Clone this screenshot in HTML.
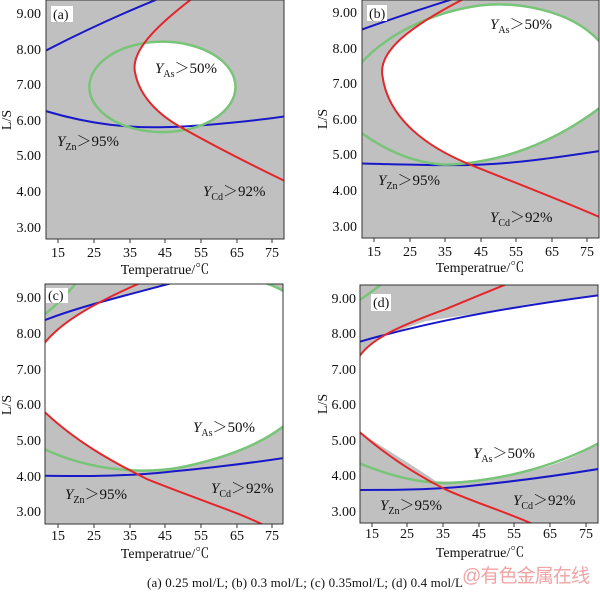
<!DOCTYPE html>
<html><head><meta charset="utf-8"><style>
html,body{margin:0;padding:0;background:#fff;width:600px;height:593px;overflow:hidden;}
svg{display:block;}
text{font-family:"Liberation Serif","Noto Serif CJK SC",serif;fill:#111;}
.l{fill:none;vector-effect:non-scaling-stroke;stroke-linejoin:round;}
.b{stroke:#1818c8;stroke-width:2;}
.r{stroke:#e4262a;stroke-width:2;}
.g{stroke:#78c478;stroke-width:2.5;}
.w{fill:#fff;stroke:none;}
</style></head><body>
<svg width="600" height="593" viewBox="0 0 600 593" xmlns="http://www.w3.org/2000/svg">
<defs>
<clipPath id="ca"><path d="M52.4,-9.4 C42,-8.6 35,-7.9 36.6,-7.3 C38,-6.6 44,-6.1 49,-5.82 C60,-5.2 70,-4.7 78.3,-4.3 L82,-4.3 L82,-9.6 L52.4,-9.6 Z"/></clipPath>
<clipPath id="cb"><path d="M40.6,-9.4 C25,-8.6 16,-7.9 17.4,-7.2 C19,-6 30,-5.2 42.5,-4.7 C55,-4.2 68,-3.7 78.3,-3.25 L82,-3.25 L82,-9.6 L40.6,-9.6 Z"/></clipPath>
</defs>

<!-- Panel a -->
<svg x="46" y="0" width="238" height="239" viewBox="11.55 -9.37 66.75 6.71" preserveAspectRatio="none">
<rect x="0" y="-20" width="100" height="30" fill="#c0c0c0"/>
<ellipse cx="44.2" cy="-6.93" rx="20.5" ry="1.27" class="w" clip-path="url(#ca)"/>
<path class="l b" d="M11.5,-7.95 Q27,-8.75 43,-9.4"/>
<path class="l b" d="M11.5,-6.25 C25,-5.85 35,-5.78 45,-5.8 S70,-5.98 78.3,-6.1"/>
<ellipse cx="44.2" cy="-6.93" rx="20.5" ry="1.27" class="l g"/>
<path class="l r" d="M52.4,-9.4 C42,-8.6 35,-7.9 36.6,-7.3 C38,-6.6 44,-6.1 49,-5.82 C60,-5.2 70,-4.7 78.3,-4.3"/>
</svg>
<rect x="46" y="0" width="238" height="239" fill="none" stroke="#333" stroke-width="1"/>
<rect x="51" y="6" width="22" height="16" fill="#fff"/><text x="53" y="19" font-size="14">(a)</text>

<!-- Panel b -->
<svg x="362" y="0" width="237" height="238" viewBox="11.62 -9.35 66.68 6.695" preserveAspectRatio="none">
<rect x="0" y="-20" width="100" height="30" fill="#c0c0c0"/>
<path class="w" clip-path="url(#cb)" d="M11.6,-5.6 C20,-5.0 28,-4.75 35,-4.72 C50,-4.75 65,-5.3 78.3,-6.3 C82,-6.8 82,-7.7 78.3,-8.2 C70,-9.1 55,-9.3 45,-9.2 C30,-9.0 18,-8.3 11.6,-7.6 C8,-7.0 8,-6.0 11.6,-5.6 Z"/>
<path class="l b" d="M11.6,-8.52 Q25,-9.0 38,-9.4"/>
<path class="l b" d="M11.6,-4.75 C25,-4.72 35,-4.68 45,-4.72 S65,-4.9 78.3,-5.1"/>
<path class="l g" d="M11.6,-5.6 C20,-5.0 28,-4.75 35,-4.72 C50,-4.75 65,-5.3 78.3,-6.3 C82,-6.8 82,-7.7 78.3,-8.2 C70,-9.1 55,-9.3 45,-9.2 C30,-9.0 18,-8.3 11.6,-7.6 C8,-7.0 8,-6.0 11.6,-5.6 Z"/>
<path class="l r" d="M40.6,-9.4 C25,-8.6 16,-7.9 17.4,-7.2 C19,-6 30,-5.2 42.5,-4.7 C55,-4.2 68,-3.7 78.3,-3.25"/>
</svg>
<rect x="362" y="0" width="237" height="238" fill="none" stroke="#333" stroke-width="1"/>
<rect x="367" y="5" width="20" height="16" fill="#fff"/><text x="369" y="18" font-size="14">(b)</text>

<!-- Panel c -->
<svg x="45" y="284" width="238" height="240" viewBox="11.27 -9.37 66.73 6.72" preserveAspectRatio="none">
<rect x="0" y="-20" width="100" height="30" fill="#c0c0c0"/>
<path class="w" d="M11,-7.7 C15,-8.2 22,-8.7 30,-8.95 C35,-9.1 42,-9.25 47,-9.4 L74,-9.4 L78.5,-9.15 L78.5,-5.4 C72,-4.9 62,-4.5 50,-4.25 C40,-4.05 36,-4.15 35,-4.2 C30,-4.4 20,-4.95 11,-5.8 Z"/>
<path class="l b" d="M11,-8.35 C20,-8.7 30,-8.95 47,-9.4"/>
<path class="l b" d="M11,-4.0 C25,-3.98 35,-4.0 45,-4.1 S65,-4.3 78.3,-4.5"/>
<path class="l g" d="M11,-8.5 Q16,-8.9 20,-9.4"/>
<path class="l g" d="M73,-9.4 Q76,-9.3 78.5,-9.15"/>
<path class="l g" d="M11,-4.75 C25,-4.1 40,-4.05 50,-4.25 C62,-4.5 72,-4.9 78.3,-5.4"/>
<path class="l r" d="M11,-7.7 C15,-8.2 22,-8.7 38,-9.4"/>
<path class="l r" d="M11,-5.8 C20,-4.95 30,-4.4 40,-3.9 C55,-3.3 65,-3.0 73,-2.6"/>
</svg>
<rect x="45" y="284" width="238" height="240" fill="none" stroke="#333" stroke-width="1"/>
<rect x="46" y="288" width="22" height="15" fill="#fff"/><text x="48" y="300" font-size="14">(c)</text>

<!-- Panel d -->
<svg x="360" y="285" width="238" height="238" viewBox="11.72 -9.37 66.76 6.7" preserveAspectRatio="none">
<rect x="0" y="-20" width="100" height="30" fill="#c0c0c0"/>
<path class="w" d="M11.5,-7.35 C15,-7.8 19,-8.0 22.9,-8.1 L30,-8.35 L45,-8.58 L60,-8.85 L78.6,-9.08 L78.6,-4.91 C72,-4.5 65,-4.25 60,-4.16 C50,-3.95 40,-3.8 33,-3.85 C25,-4.4 18,-4.8 11.5,-5.24 Z"/>
<path class="l b" d="M11.5,-7.77 C30,-8.3 50,-8.7 78.6,-9.08"/>
<path class="l g" d="M11.5,-8.94 Q14,-9.1 17.8,-9.4"/>
<path class="l r" d="M11.5,-7.35 C15,-7.9 25,-8.3 36,-8.7 C42,-8.95 48,-9.2 53,-9.4"/>
<path class="l g" d="M11.5,-4.35 C20,-4.0 28,-3.8 36,-3.79 C50,-3.85 65,-4.2 78.6,-4.91"/>
<path class="l b" d="M11.5,-3.6 C25,-3.6 35,-3.62 45,-3.74 C60,-3.9 70,-4.05 78.6,-4.19"/>
<path class="l r" d="M11.5,-5.24 C20,-4.5 28,-4.0 36,-3.6 C45,-3.2 55,-2.9 61,-2.6"/>
</svg>
<rect x="360" y="285" width="238" height="238" fill="none" stroke="#333" stroke-width="1"/>
<rect x="371" y="294" width="20" height="17" fill="#fff"/><text x="373" y="307" font-size="14">(d)</text>

<!-- Series labels -->
<g font-size="15">
<text x="155" y="73"><tspan font-style="italic">Y</tspan><tspan font-size="10" dy="4">As</tspan><tspan dy="-4">＞50%</tspan></text>
<text x="57" y="146"><tspan font-style="italic">Y</tspan><tspan font-size="10" dy="4">Zn</tspan><tspan dy="-4">＞95%</tspan></text>
<text x="203" y="196"><tspan font-style="italic">Y</tspan><tspan font-size="10" dy="4">Cd</tspan><tspan dy="-4">＞92%</tspan></text>

<text x="490" y="29"><tspan font-style="italic">Y</tspan><tspan font-size="10" dy="4">As</tspan><tspan dy="-4">＞50%</tspan></text>
<text x="378" y="185"><tspan font-style="italic">Y</tspan><tspan font-size="10" dy="4">Zn</tspan><tspan dy="-4">＞95%</tspan></text>
<text x="490" y="222"><tspan font-style="italic">Y</tspan><tspan font-size="10" dy="4">Cd</tspan><tspan dy="-4">＞92%</tspan></text>

<text x="193" y="432"><tspan font-style="italic">Y</tspan><tspan font-size="10" dy="4">As</tspan><tspan dy="-4">＞50%</tspan></text>
<text x="65" y="499"><tspan font-style="italic">Y</tspan><tspan font-size="10" dy="4">Zn</tspan><tspan dy="-4">＞95%</tspan></text>
<text x="211" y="493"><tspan font-style="italic">Y</tspan><tspan font-size="10" dy="4">Cd</tspan><tspan dy="-4">＞92%</tspan></text>

<text x="473" y="458"><tspan font-style="italic">Y</tspan><tspan font-size="10" dy="4">As</tspan><tspan dy="-4">＞50%</tspan></text>
<text x="380" y="510"><tspan font-style="italic">Y</tspan><tspan font-size="10" dy="4">Zn</tspan><tspan dy="-4">＞95%</tspan></text>
<text x="513" y="505"><tspan font-style="italic">Y</tspan><tspan font-size="10" dy="4">Cd</tspan><tspan dy="-4">＞92%</tspan></text>
</g>

<!-- Y tick labels -->
<g font-size="14" text-anchor="end">
<text x="41" y="18">9.00</text><text x="41" y="54">8.00</text><text x="41" y="89">7.00</text><text x="41" y="125">6.00</text><text x="41" y="160">5.00</text><text x="41" y="196">4.00</text><text x="41" y="232">3.00</text>
<text x="357" y="17">9.00</text><text x="357" y="53">8.00</text><text x="357" y="88">7.00</text><text x="357" y="124">6.00</text><text x="357" y="159">5.00</text><text x="357" y="195">4.00</text><text x="357" y="231">3.00</text>
<text x="41" y="302">9.00</text><text x="41" y="338">8.00</text><text x="41" y="374">7.00</text><text x="41" y="409">6.00</text><text x="41" y="445">5.00</text><text x="41" y="481">4.00</text><text x="41" y="516">3.00</text>
<text x="356" y="303">9.00</text><text x="356" y="338">8.00</text><text x="356" y="374">7.00</text><text x="356" y="409">6.00</text><text x="356" y="445">5.00</text><text x="356" y="480">4.00</text><text x="356" y="516">3.00</text>
</g>
<!-- X tick labels -->
<g font-size="14" text-anchor="middle">
<text x="58" y="257">15</text><text x="94" y="257">25</text><text x="130" y="257">35</text><text x="165" y="257">45</text><text x="201" y="257">55</text><text x="237" y="257">65</text><text x="272" y="257">75</text>
<text x="374" y="256">15</text><text x="410" y="256">25</text><text x="445" y="256">35</text><text x="481" y="256">45</text><text x="516" y="256">55</text><text x="552" y="256">65</text><text x="587" y="256">75</text>
<text x="58" y="540">15</text><text x="94" y="540">25</text><text x="130" y="540">35</text><text x="165" y="540">45</text><text x="201" y="540">55</text><text x="237" y="540">65</text><text x="272" y="540">75</text>
<text x="372" y="538">15</text><text x="407" y="538">25</text><text x="443" y="538">35</text><text x="479" y="538">45</text><text x="514" y="538">55</text><text x="550" y="538">65</text><text x="586" y="538">75</text>
</g>
<g stroke="#333" stroke-width="1">
<path d="M58,239v4M94,239v4M130,239v4M165,239v4M201,239v4M237,239v4M272,239v4"/>
<path d="M374,238v4M410,238v4M445,238v4M481,238v4M516,238v4M552,238v4M587,238v4"/>
<path d="M58,524v4M94,524v4M130,524v4M165,524v4M201,524v4M237,524v4M272,524v4"/>
<path d="M372,523v4M407,523v4M443,523v4M479,523v4M514,523v4M550,523v4M586,523v4"/>
</g>
<!-- axis titles -->
<g font-size="14" text-anchor="middle">
<text x="165" y="274">Temperatrue/℃</text>
<text x="480" y="272">Temperatrue/℃</text>
<text x="165" y="558">Temperatrue/℃</text>
<text x="480" y="557">Temperatrue/℃</text>
<text transform="translate(11,120) rotate(-90)">L/S</text>
<text transform="translate(327,119) rotate(-90)">L/S</text>
<text transform="translate(11,405) rotate(-90)">L/S</text>
<text transform="translate(327,404) rotate(-90)">L/S</text>
</g>
<text x="147" y="587" font-size="13" textLength="316">(a) 0.25 mol/L; (b) 0.3 mol/L; (c) 0.35mol/L; (d) 0.4 mol/L</text>
<text x="462" y="582" font-size="19" fill="#f0a4a4" style="fill:#f0a4a4;font-family:'Liberation Sans','Noto Sans CJK SC',sans-serif" textLength="128">@有色金属在线</text>
</svg>
</body></html>
